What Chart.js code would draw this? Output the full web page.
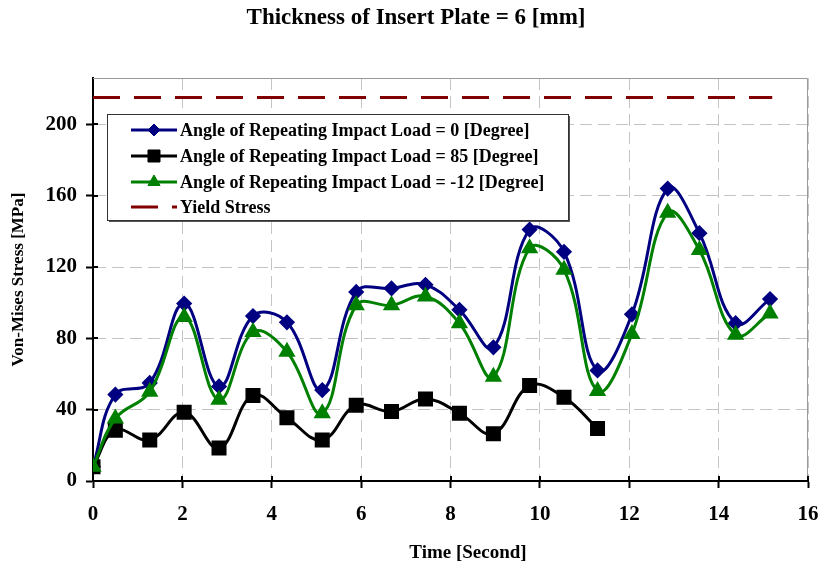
<!DOCTYPE html>
<html>
<head>
<meta charset="utf-8">
<script src="https://cdn.jsdelivr.net/npm/chart.js@4/dist/chart.umd.min.js"></script>
<style>
  html, body { margin: 0; padding: 0; background: #fff; }
  #wrap { width: 822px; height: 566px; }
</style>
</head>
<body>
<div id="wrap"><canvas id="chart" width="822" height="566"></canvas></div>
<script>
// ---- data ----
const timeSec = [0, 0.5, 1.27, 2.04, 2.82, 3.58, 4.34, 5.13, 5.89, 6.68, 7.44, 8.2, 8.96, 9.77, 10.54, 11.29, 12.06, 12.86, 13.57, 14.38, 15.15];
const stressAngle0 = [8, 48.5, 55, 99.5, 53, 92.5, 89, 51, 106, 108, 110, 96, 75, 141, 128.5, 62, 93.5, 164, 139, 88.5, 102];
const stressAngle85 = [8, 28.5, 23, 38.5, 18.5, 48, 35.5, 23, 42.5, 39, 46, 38, 26.5, 53.5, 47, 29.5];
const stressAngleM12 = [8, 35, 50, 92, 45.5, 83.5, 72.5, 38, 98.5, 98.5, 103.5, 88.5, 58.5, 130.5, 118.5, 50.5, 82.5, 150.5, 129.5, 82, 94];
const yieldTime = [0, 15.2];
const yieldStress = [215, 215];

const chartTitle = "Thickness of Insert Plate = 6 [mm]";
const seriesLabels = [
    "Angle of Repeating Impact Load = 0 [Degree]",
    "Angle of Repeating Impact Load = 85 [Degree]",
    "Angle of Repeating Impact Load = -12 [Degree]",
    "Yield Stress"
];
const xTicks = [0, 2, 4, 6, 8, 10, 12, 14, 16];
const yTicks = [0, 40, 80, 120, 160, 200];

const FONT = '"Liberation Serif", "Times New Roman", serif';

const pts = (xs, ys) => ys.map((y, i) => ({ x: xs[i], y: y }));

// =====================
// extra drawing: title, frame, inner ticks, legend box, x title
// =====================
const decorPlugin = {
    id: "decor",
    afterDraw(chart) {
        const ctx = chart.ctx;
        const a = chart.chartArea;
        const xs = chart.scales.x, ys = chart.scales.y;

        ctx.save();
        // chart title
        ctx.fillStyle = "#000";
        ctx.font = "bold 23px " + FONT;
        ctx.textAlign = "center";
        ctx.textBaseline = "middle";
        ctx.fillText(chartTitle, 416, 18);

        // light frame top/right
        ctx.strokeStyle = "#9a9a9a";
        ctx.lineWidth = 1;
        ctx.beginPath();
        ctx.moveTo(a.left, a.top + 0.5);
        ctx.lineTo(a.right - 0.5, a.top + 0.5);
        ctx.lineTo(a.right - 0.5, a.bottom);
        ctx.stroke();

        // inner parts of the crossing tick marks
        ctx.strokeStyle = "#000";
        ctx.lineWidth = 2;
        ctx.beginPath();
        xTicks.forEach(v => {
            const px = Math.round(xs.getPixelForValue(v));
            ctx.moveTo(px, a.bottom);
            ctx.lineTo(px, a.bottom - 5);
        });
        yTicks.forEach(v => {
            const py = Math.round(ys.getPixelForValue(v));
            ctx.moveTo(a.left, py);
            ctx.lineTo(a.left + 5, py);
        });
        ctx.stroke();

        // legend box
        const bx = 107, by = 114, bw = 461, bh = 106;
        ctx.fillStyle = "#fff";
        ctx.fillRect(bx, by, bw, bh);
        ctx.fillStyle = "#555";
        ctx.fillRect(bx + 2, by + bh, bw, 2);
        ctx.fillRect(bx + bw, by + 2, 2, bh);
        ctx.strokeStyle = "#333";
        ctx.lineWidth = 1;
        ctx.strokeRect(bx + 0.5, by + 0.5, bw, bh);

        const rows = [130, 156, 182, 207];
        [0, 1, 2, 3].forEach((di, r) => {
            const ds = chart.data.datasets[di];
            const y = rows[r];
            ctx.save();
            ctx.strokeStyle = ds.borderColor;
            ctx.lineWidth = 3;
            ctx.setLineDash(ds.borderDash || []);
            ctx.beginPath();
            ctx.moveTo(131, y);
            ctx.lineTo(177, y);
            ctx.stroke();
            ctx.restore();
            if (ds.pointRadius > 0) {
                ctx.fillStyle = ds.backgroundColor;
                ctx.strokeStyle = ds.borderColor;
                ctx.lineWidth = 1;
                Chart.helpers.drawPoint(ctx, {
                    pointStyle: ds.pointStyle,
                    radius: ds.pointRadius,
                    rotation: 0,
                    borderWidth: 1
                }, 154, y);
            }
            ctx.fillStyle = "#000";
            ctx.font = "bold 18px " + FONT;
            ctx.textAlign = "left";
            ctx.textBaseline = "middle";
            ctx.fillText(seriesLabels[di], 180, y + 1);
        });

        // x axis title
        ctx.fillStyle = "#000";
        ctx.font = "bold 19px " + FONT;
        ctx.textAlign = "center";
        ctx.textBaseline = "middle";
        ctx.fillText("Time [Second]", 468, 553);
        ctx.restore();
    }
};

const gridOpts = {
    color: "#c4c4c4",
    lineWidth: 1,
    tickColor: "#000",
    tickWidth: 2,
    tickLength: 7,
    tickBorderDash: []
};

const ctx = document.getElementById("chart").getContext("2d");

new Chart(ctx, {
    type: "line",
    data: {
        datasets: [
            {
                label: seriesLabels[0],
                data: pts(timeSec, stressAngle0),
                borderColor: "#000080",
                backgroundColor: "#000080",
                borderWidth: 3,
                pointStyle: "rectRot",
                pointRadius: 6,
                tension: 0.4,
                order: 2
            },
            {
                label: seriesLabels[1],
                data: pts(timeSec, stressAngle85),
                borderColor: "#000000",
                backgroundColor: "#000000",
                borderWidth: 3,
                pointStyle: "rect",
                pointRadius: 8.5,
                tension: 0.4,
                order: 1
            },
            {
                label: seriesLabels[2],
                data: pts(timeSec, stressAngleM12),
                borderColor: "#008000",
                backgroundColor: "#008000",
                borderWidth: 3,
                pointStyle: "triangle",
                pointRadius: 7,
                tension: 0.4,
                order: 0
            },
            {
                label: seriesLabels[3],
                data: pts(yieldTime, yieldStress),
                borderColor: "#800000",
                backgroundColor: "#800000",
                borderWidth: 3,
                borderDash: [27, 14],
                pointRadius: 0,
                tension: 0,
                order: 3
            }
        ]
    },
    options: {
        responsive: false,
        animation: false,
        layout: { padding: { left: 0, right: 14, top: 78, bottom: 0 } },
        plugins: {
            legend: { display: false },
            tooltip: { enabled: false },
            title: { display: false }
        },
        scales: {
            x: {
                type: "linear",
                min: 0,
                max: 16,
                afterBuildTicks: s => { s.ticks = xTicks.map(v => ({ value: v })); },
                afterFit: s => { s.height = 85; s.paddingLeft = 0; s.paddingRight = 0; },
                border: { color: "#000", width: 2, dash: [12, 6] },
                grid: gridOpts,
                ticks: {
                    color: "#000",
                    padding: 14,
                    maxRotation: 0,
                    font: { family: FONT, size: 21, weight: "bold" }
                }
            },
            y: {
                min: 0,
                max: 226,
                afterBuildTicks: s => { s.ticks = yTicks.map(v => ({ value: v })); },
                afterFit: s => { s.width = 93; s.paddingTop = 0; s.paddingBottom = 0; },
                border: { color: "#000", width: 2, dash: [12, 6] },
                grid: gridOpts,
                ticks: {
                    color: "#000",
                    padding: 9,
                    font: { family: FONT, size: 21, weight: "bold" }
                },
                title: {
                    display: true,
                    text: "Von-Mises Stress [MPa]",
                    color: "#000",
                    font: { family: FONT, size: 17, weight: "bold" },
                    padding: { top: 8, bottom: 0 }
                }
            }
        }
    },
    plugins: [decorPlugin]
});
</script>
</body>
</html>
